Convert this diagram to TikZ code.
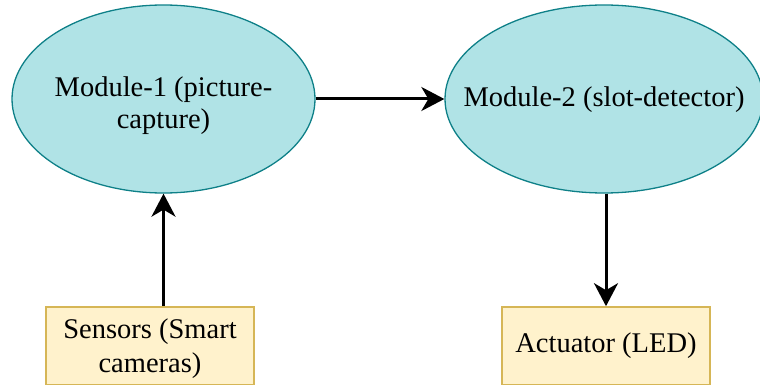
\documentclass[tikz,border=0pt]{standalone}
\usepackage{fontspec}
\setmainfont{Liberation Serif}
\usetikzlibrary{shapes.geometric,arrows.meta}
\definecolor{ellfill}{HTML}{B0E3E6}
\definecolor{elldraw}{HTML}{0E8088}
\definecolor{boxfill}{HTML}{FFF2CC}
\definecolor{boxdraw}{HTML}{D6B656}
\begin{document}
\begin{tikzpicture}[x=1pt,y=-1pt,
  module/.style={ellipse, draw=elldraw, fill=ellfill, line width=1.3pt, inner sep=0pt},
  label/.style={align=center, inner sep=0pt, font=\fontsize{28.5}{32}\selectfont},
  device/.style={rectangle, draw=boxdraw, fill=boxfill, line width=1.6pt, inner sep=0pt,
    align=center, font=\fontsize{28.5}{34}\selectfont},
  conn/.style={line width=3pt, -{Stealth[length=23pt,width=24pt,inset=7pt]}}]
\useasboundingbox (0,0) rectangle (760,385);
\node[module, minimum width=303pt, minimum height=188pt] (m1) at (163.5,99) {};
\node[label] (m1t) at ([yshift=-7pt]m1.center) {Module-1 (picture-\\capture)};
\node[module, minimum width=318pt, minimum height=188pt] (m2) at (604,99) {};
\node[label] (m2t) at ([yshift=-1pt]m2.center) {Module-2 (slot-detector)};
\node[device, minimum width=208pt, minimum height=78pt] (s) at (150,346) {};
\node[label, font=\fontsize{28.5}{34}\selectfont] (st) at ([yshift=-3pt]s.center)
  {Sensors (Smart\\cameras)};
\node[device, minimum width=208pt, minimum height=78pt] (a) at (606,346)
  {Actuator (LED)};
\draw[conn] (m1.east) -- (m1.east -| m2.west);
\draw[conn] (s.north -| m1.south) -- (m1.south);
\draw[conn] (m2.south -| a.north) -- (a.north);
\end{tikzpicture}
\end{document}
